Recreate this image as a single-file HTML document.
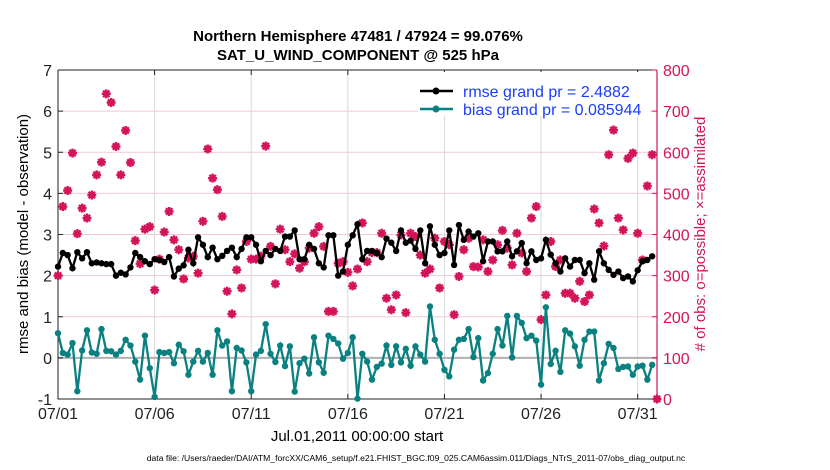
<!DOCTYPE html>
<html><head><meta charset="utf-8"><style>
body{margin:0;background:#fff;}
svg{display:block;font-family:"Liberation Sans",sans-serif;}
</style></head><body>
<svg id="chart" width="830" height="470" xmlns="http://www.w3.org/2000/svg">
<text x="358" y="41" text-anchor="middle" font-size="15" font-weight="bold">Northern Hemisphere 47481 / 47924 = 99.076%</text>
<text x="358" y="60" text-anchor="middle" font-size="15" font-weight="bold">SAT_U_WIND_COMPONENT @ 525 hPa</text>
<g id="grid"></g>
<g id="axes"></g>
<g id="marks"></g>
<text transform="translate(28,234) rotate(-90)" text-anchor="middle" font-size="15">rmse and bias (model - observation)</text>
<text transform="translate(705,234) rotate(-90)" text-anchor="middle" font-size="15" fill="#d4145a"># of obs: o=possible; ×=assimilated</text>
<text x="357" y="441" text-anchor="middle" font-size="15">Jul.01,2011 00:00:00 start</text>
<text x="416" y="461" text-anchor="middle" font-size="8.6">data file: /Users/raeder/DAI/ATM_forcXX/CAM6_setup/f.e21.FHIST_BGC.f09_025.CAM6assim.011/Diags_NTrS_2011-07/obs_diag_output.nc</text>
<g>
<rect x="418" y="72" width="232" height="44" fill="#fff"/>
<line x1="420" y1="91" x2="453" y2="91" stroke="#000" stroke-width="2.5"/><circle cx="436" cy="91" r="3.5" fill="#000"/>
<text x="463" y="97" font-size="16" fill="#1a3cff">rmse grand pr = 2.4882</text>
<line x1="420" y1="109" x2="453" y2="109" stroke="#0a8080" stroke-width="2.5"/><circle cx="436" cy="109" r="3.5" fill="#0a8080"/>
<text x="463" y="115" font-size="16" fill="#1a3cff">bias grand pr = 0.085944</text>
</g>
</svg>
<script>
const rmse=[2.22,2.55,2.5,2.18,2.57,2.42,2.57,2.3,2.32,2.3,2.28,2.28,2.0,2.07,2.03,2.2,2.55,2.45,2.35,2.28,2.4,
2.38,2.33,2.45,1.98,2.17,2.25,2.63,2.3,2.93,2.75,2.45,2.68,2.4,2.48,2.6,2.68,2.45,2.65,2.93,
2.93,2.75,2.35,2.6,2.5,2.65,2.6,2.95,2.95,3.1,2.4,2.4,2.75,2.65,2.3,2.2,2.98,2.98,2.0,2.1,2.75,2.98,3.25,2.4,2.6,2.6,2.55,2.45,2.9,2.8,2.6,3.1,2.8,2.85,2.65,3.1,2.3,3.2,2.75,2.5,
2.55,3.1,2.26,3.23,2.87,3.07,2.95,3.03,2.35,2.83,2.83,2.59,2.59,2.83,2.47,2.59,2.79,2.3,2.59,2.38,2.42,2.87,2.51,2.3,2.1,2.42,2.22,2.38,2.38,2.06,2.3,1.9,2.59,2.3,2.14,2.02,2.1,1.94,1.98,1.86,2.13,2.35,2.38,2.47];
const bias=[0.6,0.12,0.08,0.36,-0.81,0.18,0.67,0.13,0.1,0.7,0.17,0.16,0.08,0.17,0.44,0.3,-0.09,-0.53,0.54,-0.25,-0.95,0.14,0.12,0.14,-0.13,0.32,0.16,-0.41,-0.09,0.17,-0.09,0.12,-0.41,0.67,0.3,0.4,-0.81,0.24,0.18,-0.11,
-0.81,0.08,0.17,0.82,0.1,-0.1,0.3,-0.2,0.28,-0.82,-0.13,-0.02,-0.38,0.5,-0.11,-0.36,0.54,0.46,0.35,-0.02,0.12,0.5,-0.99,0.1,-0.09,-0.53,-0.22,-0.14,0.3,-0.17,0.28,-0.11,0.22,-0.19,0.28,0.08,-0.09,1.25,0.44,0.1,
-0.29,-0.45,0.2,0.44,0.46,0.7,0.02,0.48,-0.55,-0.37,0.1,0.7,0.3,1.02,0.01,1.02,0.85,0.48,0.54,0.42,-0.65,1.23,-0.15,0.17,-0.34,0.67,0.59,0.28,-0.19,0.44,0.64,0.64,-0.55,-0.13,0.34,0.24,-0.27,-0.22,-0.21,-0.41,-0.21,-0.19,-0.53,-0.17];
const nobs=[300,468,507,598,402,464,440,496,545,576,742,721,614,545,653,575,385,329,413,419,265,340,406,456,387,363,292,343,347,306,432,608,537,509,444,262,207,314,270,383,
340,340,347,615,371,280,413,363,334,353,318,334,367,403,419,371,213,213,330,334,308,275,316,428,334,356,356,403,245,217,253,399,210,403,395,350,306,316,391,270,
383,375,205,298,363,391,322,321,387,310,338,375,410,367,326,403,355,310,440,468,193,253,383,322,338,257,257,245,286,237,253,462,428,372,594,654,440,411,585,598,403,338,518,594,0];
const xTickLabels=["07/01","07/06","07/11","07/16","07/21","07/26","07/31"];
const xTickDays=[0,5,10,15,20,25,30];
const yTicks=[-1,0,1,2,3,4,5,6,7];
const y2Ticks=[0,100,200,300,400,500,600,700,800];
const stepDays=0.25;

const L=58,R=657,T=70,B=399;
const X=d=>L+(d/31)*(R-L);
const Y=v=>B-(v+1)/8*(B-T);
const Y2=v=>B-v/800*(B-T);
const NS="http://www.w3.org/2000/svg";
function mk(tag,attrs,parent){const e=document.createElementNS(NS,tag);for(const k in attrs)e.setAttribute(k,attrs[k]);parent.appendChild(e);return e;}
const grid=document.getElementById('grid'),axes=document.getElementById('axes'),marks=document.getElementById('marks');
mk('rect',{x:L,y:T,width:R-L,height:B-T,fill:'#fff'},grid);
yTicks.forEach(v=>{if(v>-1&&v<7){const l=mk('line',{x1:L,x2:R,y1:Y(v),y2:Y(v),stroke:'#f2c8d6','stroke-width':1},grid);

}});
xTickDays.forEach(d=>{if(d>0){const l=mk('line',{x1:X(d),x2:X(d),y1:T,y2:B,stroke:'#dadada','stroke-width':1},grid);

}});
const zl=mk('line',{x1:L,x2:R,y1:Y(0),y2:Y(0),stroke:'#b0b0b0','stroke-width':2},grid);


mk('path',{d:`M${L},${T}V${B}H${R}`,fill:'none',stroke:'#222','stroke-width':1},axes);
mk('line',{x1:L,x2:R,y1:T,y2:T,stroke:'#222','stroke-width':1},axes);
mk('line',{x1:R,x2:R,y1:T,y2:B,stroke:'#d4145a','stroke-width':1.2},axes);
yTicks.forEach(v=>{mk('line',{x1:L,x2:L+5,y1:Y(v),y2:Y(v),stroke:'#222'},axes);
const t=mk('text',{x:L-6,y:Y(v)+6,'text-anchor':'end','font-size':16,fill:'#222'},axes);t.textContent=v;

});
y2Ticks.forEach(v=>{mk('line',{x1:R-5,x2:R,y1:Y2(v),y2:Y2(v),stroke:'#d4145a'},axes);
const t=mk('text',{x:R+6,y:Y2(v)+6,'font-size':16,fill:'#d4145a'},axes);t.textContent=v;

});
xTickDays.forEach((d,i)=>{mk('line',{x1:X(d),x2:X(d),y1:B,y2:B-5,stroke:'#222'},axes);mk('line',{x1:X(d),x2:X(d),y1:T,y2:T+5,stroke:'#222'},axes);
const t=mk('text',{x:X(d),y:B+20,'text-anchor':'middle','font-size':16,fill:'#222'},axes);t.textContent=xTickLabels[i];

});
nobs.forEach((v,i)=>{const cx=X(i*stepDays),cy=Y2(v);
const g=mk('g',{},marks);


mk('path',{d:`M${cx-4.5},${cy}H${cx+4.5}M${cx},${cy-4.5}V${cy+4.5}M${cx-3.2},${cy-3.2}L${cx+3.2},${cy+3.2}M${cx-3.2},${cy+3.2}L${cx+3.2},${cy-3.2}`,stroke:'#d4145a','stroke-width':2.4},g);
mk('circle',{cx:cx,cy:cy,r:2.8,fill:'#d4145a'},g);});
function series(arr,color,name){
const p=mk('polyline',{points:arr.map((v,i)=>X(i*stepDays)+','+Y(v)).join(' '),fill:'none',stroke:color,'stroke-width':2.3},marks);


arr.forEach((v,i)=>{const c=mk('circle',{cx:X(i*stepDays),cy:Y(v),r:3.2,fill:color},marks);

});}
series(rmse,'#000','rmse');
series(bias,'#0a8080','bias');
</script>
</body></html>
